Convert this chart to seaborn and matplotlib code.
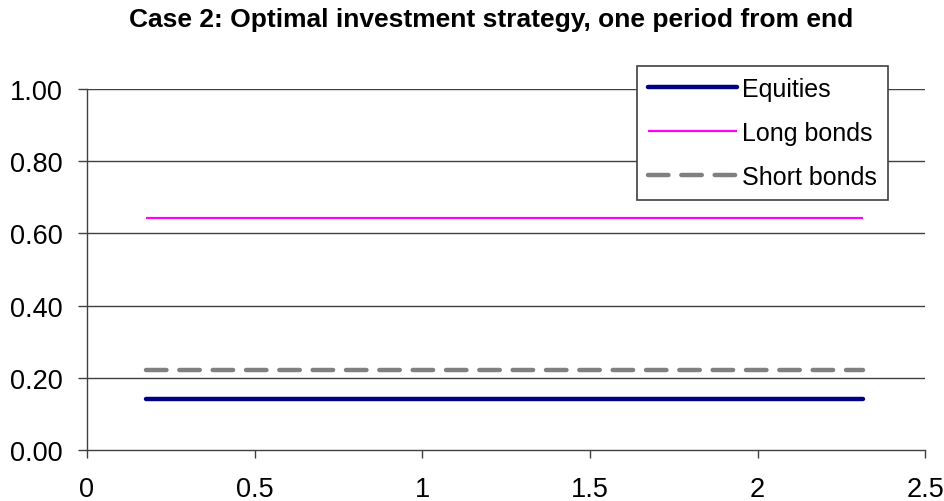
import matplotlib
matplotlib.use("Agg")
import matplotlib.pyplot as plt
import seaborn as sns
import pandas as pd

# Horizon positions and optimal portfolio weights per asset class
horizon = [0.175, 0.5, 1.0, 1.5, 2.0, 2.315]
equities = [0.141, 0.141, 0.141, 0.141, 0.141, 0.141]
long_bonds = [0.643, 0.643, 0.643, 0.643, 0.643, 0.643]
short_bonds = [0.221, 0.221, 0.221, 0.221, 0.221, 0.221]

series_names = ["Equities", "Long bonds", "Short bonds"]
x_ticks = [0, 0.5, 1, 1.5, 2, 2.5]
x_tick_labels = ["0", "0.5", "1", "1.5", "2", "2.5"]
y_ticks = [0.0, 0.2, 0.4, 0.6, 0.8, 1.0]
y_tick_labels = ["0.00", "0.20", "0.40", "0.60", "0.80", "1.00"]

df = pd.DataFrame({
    "x": horizon * 3,
    "weight": equities + long_bonds + short_bonds,
    "asset": [series_names[0]] * len(horizon)
    + [series_names[1]] * len(horizon)
    + [series_names[2]] * len(horizon),
})

sns.set_theme(style="white")
plt.rcParams["font.family"] = ["Liberation Sans", "DejaVu Sans"]
plt.rcParams["text.color"] = "black"
plt.rcParams["xtick.color"] = "#404040"
plt.rcParams["ytick.color"] = "#404040"
plt.rcParams["xtick.labelcolor"] = "black"
plt.rcParams["ytick.labelcolor"] = "black"

fig = plt.figure(figsize=(9.45, 5.02), dpi=100)
ax = fig.add_axes([0.092, 0.1016, 0.887, 0.7194])

styles = {
    "Equities": dict(color="#000080", linewidth=3.2, solid_capstyle="round"),
    "Long bonds": dict(color="#FF00FF", linewidth=1.6, solid_capstyle="butt"),
    "Short bonds": dict(color="#808080", linewidth=3.2, dash_capstyle="round"),
}

for name in series_names:
    sub = df[df["asset"] == name]
    sns.lineplot(data=sub, x="x", y="weight", ax=ax, label=name,
                 **styles[name])

ax.lines[2].set_dashes([4.6, 2.9])

ax.set_xlim(0, 2.5)
ax.set_ylim(0, 1.0)
ax.set_xticks(x_ticks)
ax.set_xticklabels(x_tick_labels)
ax.set_yticks(y_ticks)
ax.set_yticklabels(y_tick_labels)
ax.set_xlabel("")
ax.set_ylabel("")

for yv in y_ticks[1:]:
    ax.axhline(yv, color="#404040", linewidth=1.0, zorder=0)

for side in ["top", "right"]:
    ax.spines[side].set_visible(False)
for side in ["left", "bottom"]:
    ax.spines[side].set_visible(True)
    ax.spines[side].set_color("#404040")
    ax.spines[side].set_linewidth(1.0)

ax.tick_params(axis="y", direction="out", length=6.5, width=1.0,
               pad=11, labelsize=19.5, left=True)
ax.tick_params(axis="x", direction="out", length=5.5, width=1.0,
               pad=13, labelsize=19.5, bottom=True)

leg = ax.legend(loc="upper right", bbox_to_anchor=(0.956, 1.064),
                frameon=True, fancybox=False, edgecolor="#404040",
                framealpha=1.0, fontsize=18, handlelength=3.55,
                handletextpad=0.2, borderpad=0.45, labelspacing=0.8,
                borderaxespad=0)
leg.get_frame().set_linewidth(1.2)

fig.text(0.52, 0.96, "Case 2: Optimal investment strategy, one period from end",
         ha="center", va="center", fontsize=19, fontweight="bold")

fig.savefig("out.png", dpi=100, facecolor="white")
